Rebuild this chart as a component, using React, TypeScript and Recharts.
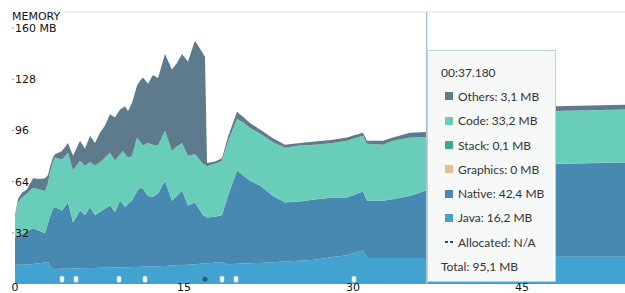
import React from 'react';
import {
  ComposedChart,
  Area,
  Line,
  XAxis,
  YAxis,
  Tooltip,
  ReferenceLine,
  ReferenceDot,
} from 'recharts';

// seconds since session start
const times = [
  0, 0.27, 0.62, 1.06, 1.6, 2.22, 2.66, 2.93, 3.1, 3.37, 3.55, 4.17, 4.7, 5.15, 5.77, 6.21, 6.66,
  7.1, 7.54, 7.99, 8.43, 8.87, 9.32, 9.58, 9.76, 10.03, 10.38, 10.83, 11.09, 11.36, 11.8, 12.24,
  12.69, 13.31, 13.93, 14.37, 14.82, 15.35, 15.97, 16.68, 16.86, 17.04, 17.75, 18.37, 18.9, 19.7,
  20.23, 20.85, 21.74, 22.89, 23.96, 25.29, 26.62, 28.22, 29.46, 30.17, 30.88, 31.23, 32.65, 33.54,
  35.05, 36.53, 38.6, 41.26, 43.03, 48.0, 51.02, 54.13,
];

// MB per category
const java = [
  11.8, 12, 12, 12.2, 12.5, 13, 13.5, 13.7, 11, 9.3, 9.4, 9.5, 9.6, 9.7, 9.8, 9.9, 10,
  10, 10.1, 10.2, 10.3, 10.3, 10.4, 10.4, 10.5, 10.5, 10.6, 10.7, 10.8, 10.8, 10.9, 11,
  11.1, 11.3, 11.5, 11.7, 11.9, 12.1, 12.4, 12.8, 12.9, 13, 13.3, 13.7, 12.4, 12.6,
  12.8, 13, 13.2, 13.6, 14, 14.5, 15.2, 16.8, 18, 19.5, 21, 16.2, 16.2, 16.2,
  16.2, 16.2, 16.3, 16.5, 17, 17, 17, 17,
];
const native = [
  17.2, 18, 19, 20.8, 22.3, 20, 18.2, 24.3, 31, 37.7, 38.6, 36.5, 41.4, 28.8, 36.2, 33.1, 38,
  33, 34.9, 36.8, 38.7, 34.7, 41.6, 39.6, 37.5, 39.5, 41.4, 47.3, 49.2, 48.8, 44.1, 43.5,
  45.4, 53.3, 40.5, 43.3, 46.5, 36.9, 38.6, 30.2, 29.6, 28.6, 28.7, 29.3, 42.6, 58.4,
  55.2, 51.6, 48.3, 41.4, 37, 37.1, 37.6, 37.2, 36, 36.5, 36.8, 35.8, 35.8, 36.8,
  38.8, 42.42, 42.8, 43.2, 57, 58, 58.5, 59,
];
const graphics = [
  0, 0, 0, 0, 0, 0, 0, 0, 0, 0, 0, 0, 0, 0, 0, 0, 0,
  0, 0, 0, 0, 0, 0, 0, 0, 0, 0, 0, 0, 0, 0, 0,
  0, 0, 0, 0, 0, 0, 0, 0, 0, 0, 0, 0, 0, 0,
  0, 0, 0, 0, 0, 0, 0, 0, 0, 0, 0, 0, 0, 0,
  0, 0, 0, 0, 0, 0, 0, 0,
];
const stack = [
  0.1, 0.1, 0.1, 0.1, 0.1, 0.1, 0.1, 0.1, 0.1, 0.1, 0.1, 0.1, 0.1, 0.1, 0.1, 0.1, 0.1,
  0.1, 0.1, 0.1, 0.1, 0.1, 0.1, 0.1, 0.1, 0.1, 0.1, 0.1, 0.1, 0.1, 0.1, 0.1,
  0.1, 0.1, 0.1, 0.1, 0.1, 0.1, 0.1, 0.1, 0.1, 0.1, 0.1, 0.1, 0.1, 0.1,
  0.1, 0.1, 0.1, 0.1, 0.1, 0.1, 0.1, 0.1, 0.1, 0.1, 0.1, 0.1, 0.1, 0.1,
  0.1, 0.1, 0.1, 0.1, 0.1, 0.1, 0.1, 0.1,
];
const code = [
  12.6, 21, 23, 23.5, 25.2, 26, 26.3, 25, 27.6, 29, 31, 31.7, 31, 32.5, 31, 31, 28,
  31, 31, 32, 33, 32, 29, 33, 33, 29, 28, 33.4, 29, 26.8, 33, 32.5,
  29.9, 31.1, 31, 31, 29.6, 31, 30, 32, 32, 31.9, 33, 34, 34, 32,
  33, 32.9, 32.5, 33.5, 34, 34.8, 34.2, 34, 35.5, 35, 34.8, 35.6, 35, 36.5,
  36.4, 33.22, 33.4, 33.5, 33, 33, 33, 33,
];
const others = [
  1.4, 2, 3, 2.5, 6, 6.5, 8, 5, 3.4, 3, 2, 5.3, 6, 9, 12.5, 10.5, 16.6,
  14, 18.5, 20, 24, 27, 28, 27, 30, 29, 33, 32.6, 38, 42.6, 37, 43.5,
  42.2, 47.9, 51, 52, 55.6, 59, 71, 69, 67.5, 2, 1.5, 1.5, 3, 4.5,
  3.5, 3, 2.5, 2.5, 2, 1.6, 2, 2, 2, 2, 1.9, 1.9, 2.5, 2,
  3.1, 3.12, 3.1, 3.1, 3, 3, 3, 3,
];

const eventTimes = [4.17, 5.41, 9.23, 11.54, 18.37, 19.61, 30.08];
const gcTimes = [16.86];

const xTicks = [0, 15, 30, 45];
const yTicks = [32, 64, 96, 128, 160];
const allocTicks = [1000, 2000, 3000, 4000, 5000];

const X_MAX = 54.13;
const Y_MAX = 170;
const ALLOC_MAX = 5312.5;
const MARKER_Y = 3;
const ACTIVE_INDEX = 61;
const ACTIVE_LABEL = '00:37.180';

const series = [
  { key: 'others', name: 'Others', color: '#5e7b8e' },
  { key: 'code', name: 'Code', color: '#68cdb9' },
  { key: 'stack', name: 'Stack', color: '#38aa92' },
  { key: 'graphics', name: 'Graphics', color: '#e8c08c' },
  { key: 'native', name: 'Native', color: '#4889b1' },
  { key: 'java', name: 'Java', color: '#42a2d0' },
];

const data = times.map((t, i) => ({
  t,
  java: java[i],
  native: native[i],
  graphics: graphics[i],
  stack: stack[i],
  code: code[i],
  others: others[i],
}));

const fmt = (v: number) => (v === 0 ? '0' : v.toFixed(1).replace('.', ','));

const ROW = 24.3;

const TipBox = ({ payload }: any) => {
  const row = payload?.[0]?.payload;
  if (!row) return null;
  const total = series.reduce((s, d) => s + row[d.key], 0);
  const rowStyle: React.CSSProperties = {
    height: ROW,
    display: 'flex',
    alignItems: 'center',
    whiteSpace: 'nowrap',
  };
  return (
    <div
      style={{
        width: 129,
        height: 232,
        boxSizing: 'border-box',
        background: '#f7f8f8',
        border: '1px solid #b9d4d4',
        padding: '9px 0 0 13px',
        fontFamily: 'Lato, "Open Sans", sans-serif',
        fontSize: 12,
        color: '#333',
      }}
    >
      <div style={rowStyle}>{ACTIVE_LABEL}</div>
      {series.map((s) => (
        <div key={s.key} style={rowStyle}>
          <span
            style={{ display: 'inline-block', width: 8, height: 8, marginLeft: 4, marginRight: 5, background: s.color }}
          />
          {s.name}: {fmt(row[s.key])} MB
        </div>
      ))}
      <div style={rowStyle}>
        <svg width={8} height={8} style={{ marginLeft: 4, marginRight: 5 }}>
          <line x1={0} x2={8} y1={4} y2={4} stroke="#2a4b6a" strokeWidth={2} strokeDasharray="3 2" />
        </svg>
        Allocated: N/A
      </div>
      <div style={rowStyle}>Total: {fmt(total)} MB</div>
    </div>
  );
};

const LeftTick = ({ x, y, payload }: any) => (
  <g>
    <line x1={x - 3} x2={x - 1} y1={y} y2={y} stroke="#9a9a9a" strokeWidth={1} />
    {payload.value === 160 && (
      <text x={x - 3} y={y - 12} dy={4} fontSize={11} fill="#111" fontFamily="DejaVu Sans">
        MEMORY
      </text>
    )}
    <text x={x} y={y} dy={4} fontSize={11} fill="#111" fontFamily="DejaVu Sans">
      {payload.value === 160 ? '160 MB' : payload.value}
    </text>
  </g>
);

const RightTick = ({ x, y, payload }: any) => (
  <text x={x - 9} y={y} dy={1.5} fontSize={4} fill="#8a8a8a" fontFamily="DejaVu Sans">
    {payload.value}
  </text>
);

const BottomTick = ({ x, y, payload }: any) => (
  <text x={x} y={y + 7} textAnchor="middle" fontSize={11} fill="#111" fontFamily="DejaVu Sans">
    {payload.value}
  </text>
);

const EventMark = ({ cx, cy }: any) => (
  <rect x={cx - 2} y={cy - 3} width={4} height={6} rx={1.5} fill="#ffffff" stroke="#cfe0ea" strokeWidth={0.5} />
);

const GcMark = ({ cx, cy }: any) => <circle cx={cx} cy={cy} r={2.5} fill="#1d5d88" />;

export default function App() {
  return (
    <div style={{ position: 'absolute', left: 0, top: 0, width: 625, height: 293, background: '#fff' }}>
      <ComposedChart width={625} height={293} data={data} margin={{ top: 12, right: 0, bottom: 0, left: 0 }}>
        <Area dataKey="java" stackId="mem" type="linear" fill="#42a2d0" stroke="none" fillOpacity={1} activeDot={false} isAnimationActive={false} />
        <Area dataKey="native" stackId="mem" type="linear" fill="#4889b1" stroke="none" fillOpacity={1} activeDot={false} isAnimationActive={false} />
        <Area dataKey="graphics" stackId="mem" type="linear" fill="#e8c08c" stroke="none" fillOpacity={1} activeDot={false} isAnimationActive={false} />
        <Area dataKey="stack" stackId="mem" type="linear" fill="#38aa92" stroke="none" fillOpacity={1} activeDot={false} isAnimationActive={false} />
        <Area dataKey="code" stackId="mem" type="linear" fill="#68cdb9" stroke="none" fillOpacity={1} activeDot={false} isAnimationActive={false} />
        <Area dataKey="others" stackId="mem" type="linear" fill="#5e7b8e" stroke="none" fillOpacity={1} activeDot={false} isAnimationActive={false} />
        <Line yAxisId="alloc" dataKey="allocated" stroke="#2a4b6a" strokeDasharray="3 2" dot={false} activeDot={false} isAnimationActive={false} />
        <ReferenceLine
          segment={[{ x: 4.3, y: Y_MAX }, { x: X_MAX, y: Y_MAX }]}
          stroke="#dedede"
          strokeWidth={1}
        />
        {eventTimes.map((t) => (
          <ReferenceDot key={t} x={t} y={MARKER_Y} shape={EventMark} />
        ))}
        {gcTimes.map((t) => (
          <ReferenceDot key={t} x={t} y={MARKER_Y} shape={GcMark} />
        ))}
        <XAxis
          dataKey="t"
          type="number"
          domain={[0, X_MAX]}
          ticks={xTicks}
          height={9}
          tickSize={0}
          tickMargin={0}
          tickLine={false}
          axisLine={false}
          tick={BottomTick}
          interval={0}
        />
        <YAxis
          type="number"
          domain={[0, Y_MAX]}
          ticks={yTicks}
          width={15}
          tickSize={0}
          tickMargin={0}
          tickLine={false}
          axisLine={false}
          tick={LeftTick}
          interval={0}
        />
        <YAxis
          yAxisId="alloc"
          orientation="right"
          type="number"
          domain={[0, ALLOC_MAX]}
          ticks={allocTicks}
          width={0}
          tickSize={0}
          tickMargin={0}
          tickLine={false}
          axisLine={false}
          tick={RightTick}
          interval={0}
        />
        <Tooltip
          active
          defaultIndex={ACTIVE_INDEX}
          position={{ x: 427, y: 50 }}
          allowEscapeViewBox={{ x: true, y: true }}
          cursor={{ stroke: '#a9c1d6', strokeWidth: 1.5 }}
          isAnimationActive={false}
          content={(props: any) => <TipBox {...props} />}
        />
      </ComposedChart>
    </div>
  );
}
